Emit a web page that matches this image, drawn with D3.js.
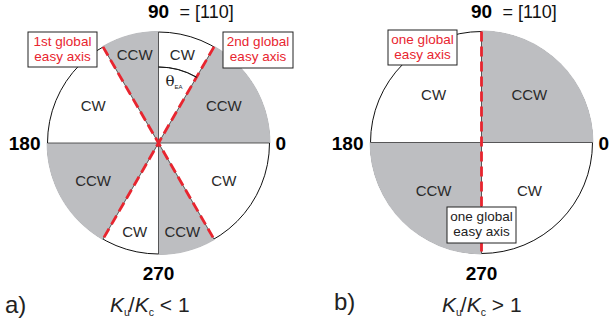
<!DOCTYPE html>
<html>
<head>
<meta charset="utf-8">
<script src="https://cdn.jsdelivr.net/npm/d3@7"></script>
<style>
  html, body { margin: 0; background: #fff; }
  svg { display: block; }
</style>
</head>
<body>
<svg id="chart" width="609" height="328"></svg>
<script>
// Angular sectors (degrees, counter-clockwise from the 0 direction) and the
// rotation sense of each sector, for the two anisotropy regimes.
const edgesA = [0, 60, 90, 120, 180, 240, 270, 300, 360];
const senseA = ["CCW", "CW", "CCW", "CW", "CCW", "CW", "CCW", "CW"];
const easyAxesA = [60, 120];
const easyLabelsA = [["2nd global", "easy axis"], ["1st global", "easy axis"]];

const edgesB = [0, 90, 180, 270, 360];
const senseB = ["CCW", "CW", "CCW", "CW"];
const easyAxesB = [90];
const easyLabelsB = [["one global", "easy axis"]];

const angleTicks = [0, 90, 180, 270];
const thetaEA = [60, 90];   // arc marking the easy-axis angle in panel a

const FONT = "'Liberation Sans', Arial, Helvetica, sans-serif";
const GRAY = "#bdbec1";
const RED = "#e8252f";

const svg = d3.select("#chart");

// degrees -> d3.arc angle (clockwise from 12 o'clock)
const toArc = d3.scaleLinear().domain([0, 360]).range([Math.PI / 2, Math.PI / 2 - 2 * Math.PI]);

function polar(cx, cy, rho, deg) {
  const a = deg * Math.PI / 180;
  return [cx + rho * Math.cos(a), cy - rho * Math.sin(a)];
}

function labelFactor(width) {
  if (width <= 30) return 0.83;
  if (width <= 60) return 0.68;
  return 0.61;
}

function drawPanel(cfg) {
  const { cx, cy, r, edges, sense, axes } = cfg;
  const g = svg.append("g");

  const sectors = sense.map((s, i) => ({ a0: edges[i], a1: edges[i + 1], sense: s }));

  // white disc with outline
  g.append("circle").attr("cx", cx).attr("cy", cy).attr("r", r)
    .attr("fill", "#fff").attr("stroke", "#111").attr("stroke-width", 1);

  // CCW sectors shaded (slightly over the rim so the outline only shows on CW arcs)
  const arc = d3.arc().innerRadius(0).outerRadius(r + 0.9);
  g.selectAll("path.sector").data(sectors.filter(d => d.sense === "CCW")).join("path")
    .attr("class", "sector")
    .attr("transform", `translate(${cx},${cy})`)
    .attr("d", d => arc({ startAngle: toArc(d.a1), endAngle: toArc(d.a0) }))
    .attr("fill", GRAY);

  // sector borders
  const borders = Array.from(new Set(edges.map(e => e % 360)));
  g.selectAll("line.edge").data(borders).join("line")
    .attr("class", "edge")
    .attr("x1", cx).attr("y1", cy)
    .attr("x2", d => polar(cx, cy, r, d)[0])
    .attr("y2", d => polar(cx, cy, r, d)[1])
    .attr("stroke", "#333").attr("stroke-width", 0.8);

  // sector labels
  g.selectAll("text.sense").data(sectors).join("text")
    .attr("class", "sense")
    .attr("x", d => polar(cx, cy, r * labelFactor(d.a1 - d.a0), (d.a0 + d.a1) / 2)[0])
    .attr("y", d => polar(cx, cy, r * labelFactor(d.a1 - d.a0), (d.a0 + d.a1) / 2)[1])
    .attr("text-anchor", "middle").attr("dominant-baseline", "central")
    .attr("font-family", FONT).attr("font-size", 15).attr("fill", "#2a2a2a")
    .text(d => d.sense);

  // easy axes: dashed red diameters
  g.selectAll("line.easy").data(axes).join("line")
    .attr("class", "easy")
    .attr("x1", d => polar(cx, cy, r, d)[0]).attr("y1", d => polar(cx, cy, r, d)[1])
    .attr("x2", d => polar(cx, cy, r, d + 180)[0]).attr("y2", d => polar(cx, cy, r, d + 180)[1])
    .attr("stroke", RED).attr("stroke-width", 2.8).attr("stroke-dasharray", "10,5");

  // angle labels
  angleTicks.forEach(t => {
    const [x, y] = polar(cx, cy, r, t);
    const txt = g.append("text").attr("font-family", FONT).attr("font-weight", "bold")
      .attr("font-size", 19).attr("fill", "#000").text(String(t));
    if (t === 0) txt.attr("x", x + 6).attr("y", y + 7).attr("text-anchor", "start");
    if (t === 180) txt.attr("x", x - 7).attr("y", y + 7).attr("text-anchor", "end");
    if (t === 90) txt.attr("x", x).attr("y", y - 14).attr("text-anchor", "middle");
    if (t === 270) txt.attr("x", x).attr("y", y + 26).attr("text-anchor", "middle");
    if (t === 90) {
      g.append("text").attr("x", x + 21).attr("y", y - 14)
        .attr("font-family", FONT).attr("font-size", 18).attr("fill", "#111")
        .text("= [110]");
    }
  });

  return g;
}

function labelBox(g, x, y, w, h, lines, color) {
  g.append("rect").attr("x", x).attr("y", y).attr("width", w).attr("height", h)
    .attr("fill", "#fff").attr("stroke", "#222").attr("stroke-width", 1);
  g.append("text").attr("font-family", FONT).attr("font-size", 13.5).attr("fill", color)
    .attr("text-anchor", "middle")
    .selectAll("tspan").data(lines).join("tspan")
    .attr("x", x + w / 2).attr("y", (d, i) => y + 13.5 + i * 15)
    .text(d => d);
}

function ratioLabel(x, y, rel) {
  const t = svg.append("text").attr("x", x).attr("y", y)
    .attr("font-family", FONT).attr("font-size", 21).attr("fill", "#222");
  t.append("tspan").attr("font-style", "italic").text("K");
  t.append("tspan").attr("font-size", 10.5).attr("dy", 4).text("u");
  t.append("tspan").attr("dy", -4).attr("dx", -1).text("/");
  t.append("tspan").attr("font-style", "italic").text("K");
  t.append("tspan").attr("font-size", 10.5).attr("dy", 4).text("c");
  t.append("tspan").attr("dy", -4).text(rel);
}

// ---- panel a: Ku/Kc < 1 ----
const A = { cx: 158.5, cy: 143, r: 111 };
const gA = drawPanel({ ...A, edges: edgesA, sense: senseA, axes: easyAxesA });

// theta_EA arc between the [110] direction and the 2nd easy axis
const thArc = d3.arc().innerRadius(76).outerRadius(76);
gA.append("path").attr("transform", `translate(${A.cx},${A.cy})`)
  .attr("d", thArc({ startAngle: toArc(thetaEA[1]), endAngle: toArc(thetaEA[0]) }))
  .attr("fill", "none").attr("stroke", "#111").attr("stroke-width", 0.9);
const thText = gA.append("text").attr("x", A.cx + 7).attr("y", A.cy - 57)
  .attr("font-family", "'DejaVu Serif', 'Liberation Serif', serif").attr("font-size", 15).attr("fill", "#222");
thText.append("tspan").text("θ");
thText.append("tspan").attr("font-family", FONT).attr("font-size", 6).attr("dy", 3).text("EA");

labelBox(gA, 28, 32, 69, 35, easyLabelsA[1], RED);
labelBox(gA, 223, 32, 70, 36, easyLabelsA[0], RED);

svg.append("text").attr("x", 5).attr("y", 313).attr("font-family", FONT)
  .attr("font-size", 24).attr("fill", "#222").text("a)");
ratioLabel(110, 312, " < 1");

// ---- panel b: Ku/Kc > 1 ----
const B = { cx: 481.5, cy: 142.5, r: 111 };
const gB = drawPanel({ ...B, edges: edgesB, sense: senseB, axes: easyAxesB });
labelBox(gB, 388, 30, 69, 35, easyLabelsB[0], RED);
labelBox(gB, 447, 207, 69, 36, easyLabelsB[0], "#222");

svg.append("text").attr("x", 334).attr("y", 310).attr("font-family", FONT)
  .attr("font-size", 24).attr("fill", "#222").text("b)");
ratioLabel(442, 312, "  > 1");
</script>
</body>
</html>
